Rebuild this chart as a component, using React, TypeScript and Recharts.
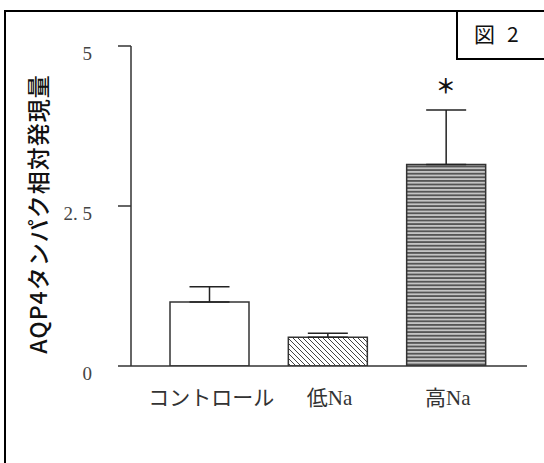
import React from 'react';
import { BarChart, Bar, XAxis, YAxis, ErrorBar, Cell, ReferenceDot } from 'recharts';

const categories = ['コントロール', '低Na', '高Na'];
const values = [1.0, 0.45, 3.15];
const errors = [0.24, 0.06, 0.85];
const marks = ['', '', '＊'];
const yTicks = [0, 2.5, 5];
const yTickLabels = ['0', '2. 5', '5'];
const yTitle = 'AQP4タンパク相対発現量';
const figLabel = ['図', '2'];

const data = categories.map((c, i) => ({ name: c, value: values[i], err: [0, errors[i]] }));
const fills = ['#ffffff', 'url(#hatchLow)', 'url(#stripeHigh)'];

const serif = "'Liberation Serif', 'Noto Sans CJK JP', serif";

const YTick = (props: any) => {
  const { x, y, payload } = props;
  const idx = yTicks.indexOf(payload.value);
  return (
    <text x={x} y={y + 7} textAnchor="end" dominantBaseline="central" fontFamily={serif} fontSize={19} fill="#444">
      {idx >= 0 ? yTickLabels[idx] : payload.value}
    </text>
  );
};

const XTick = (props: any) => {
  const { x, payload } = props;
  return (
    <text x={x + 2} y={398} textAnchor="middle" dominantBaseline="central" fontFamily={serif} fontSize={21} fill="#333">
      {payload.value}
    </text>
  );
};

const YTitle = () => (
  <text
    x={37}
    y={214}
    transform="rotate(-90 37 214)"
    textAnchor="middle"
    dominantBaseline="central"
    fontFamily="'Noto Sans CJK JP', 'Noto Sans', sans-serif"
    fontSize={23}
    fontWeight={500}
    letterSpacing={1}
    fill="#111"
  >
    {yTitle}
  </text>
);

export default function App() {
  return (
    <div style={{ position: 'fixed', left: 0, top: 0, width: 544, height: 463, overflow: 'hidden', background: '#fff' }}>
      <div style={{ position: 'absolute', left: 4, top: 10, width: 800, height: 800, border: '2px solid #000', boxSizing: 'border-box' }} />
      <div
        style={{
          position: 'absolute',
          left: 456,
          top: 10,
          width: 200,
          height: 50,
          border: '2px solid #000',
          boxSizing: 'border-box',
          fontFamily: "'Noto Sans CJK JP', 'Noto Sans', sans-serif",
          fontSize: 21,
          color: '#111',
        }}
      >
        <span style={{ position: 'absolute', left: 16, top: 9, lineHeight: '24px' }}>{figLabel[0]}</span>
        <span style={{ position: 'absolute', left: 49, top: 9, lineHeight: '24px' }}>{figLabel[1]}</span>
      </div>
      <div style={{ position: 'absolute', left: 0, top: 0 }}>
        <BarChart width={544} height={463} data={data} margin={{ top: 46, right: 17, bottom: 67, left: 0 }} barSize={79}>
          <defs>
            <pattern id="hatchLow" patternUnits="userSpaceOnUse" width={5} height={5}>
              <rect width={5} height={5} fill="#fff" />
              <path d="M0,0 L5,5 M-1,4 L1,6 M4,-1 L6,1" stroke="#444" strokeWidth={1} />
            </pattern>
            <pattern id="stripeHigh" patternUnits="userSpaceOnUse" width={4} height={3.6}>
              <rect width={4} height={3.6} fill="#c4c4c4" />
              <rect width={4} height={1.8} fill="#555" />
            </pattern>
          </defs>
          <XAxis
            dataKey="name"
            height={30}
            padding={{ left: 19, right: 22 }}
            tickLine={false}
            tickSize={0}
            tickMargin={0}
            tick={<XTick />}
            axisLine={{ stroke: '#333', strokeWidth: 1.5 }}
            interval={0}
          />
          <YAxis
            width={131}
            domain={[0, 5]}
            ticks={yTicks}
            tickSize={13}
            tickMargin={26}
            tick={<YTick />}
            tickLine={{ stroke: '#333', strokeWidth: 1.5 }}
            axisLine={{ stroke: '#333', strokeWidth: 1.5 }}
            label={YTitle}
            allowDataOverflow
          />
          <Bar dataKey="value" stroke="#333" strokeWidth={1.5} isAnimationActive={false}>
            {data.map((d, i) => (
              <Cell key={d.name} fill={fills[i]} />
            ))}
            <ErrorBar dataKey="err" width={20} stroke="#222" strokeWidth={1.5} direction="y" isAnimationActive={false} />
          </Bar>
          {categories.map((c, i) =>
            marks[i] ? (
              <ReferenceDot
                key={c}
                x={c}
                y={values[i] + errors[i]}
                r={0.5}
                fill="none"
                stroke="none"
                isFront
                label={(p: any) => {
                  const vb = p.viewBox || {};
                  const cx = (vb.x || 0) + (vb.width || 0) / 2;
                  const cy = (vb.y || 0) + (vb.height || 0) / 2;
                  return (
                    <text x={cx} y={cy - 25} textAnchor="middle" dominantBaseline="central" fontFamily="'Noto Sans CJK JP', sans-serif" fontSize={20} fontWeight={700} fill="#111">
                      {marks[i]}
                    </text>
                  );
                }}
              />
            ) : null
          )}
        </BarChart>
      </div>
    </div>
  );
}
